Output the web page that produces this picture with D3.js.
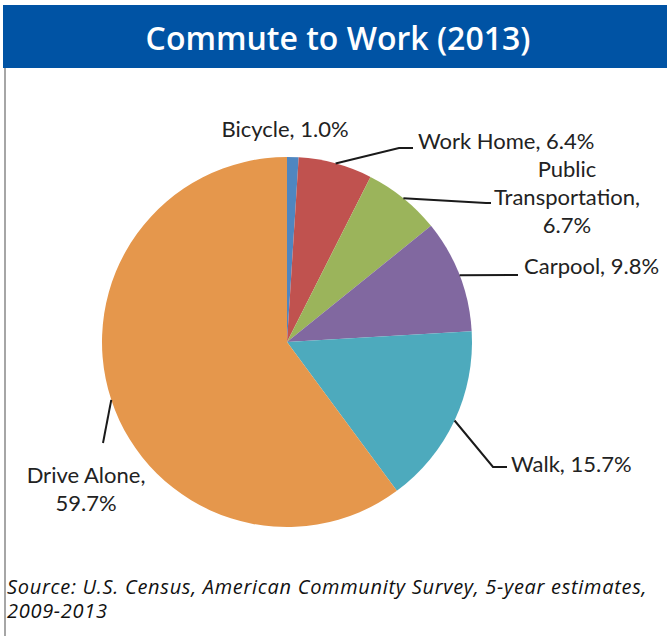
<!DOCTYPE html>
<html>
<head>
<meta charset="utf-8">
<script src="https://cdn.jsdelivr.net/npm/d3@7/dist/d3.min.js"></script>
<style>
  html, body { margin: 0; padding: 0; background: #fff; }
  svg { display: block; }
</style>
</head>
<body>
<svg id="chart" width="667" height="636"></svg>
<script>
// ---- Data ----
const categories = ["Bicycle", "Work Home", "Public Transportation", "Carpool", "Walk", "Drive Alone"];
const values = [1.0, 6.4, 6.7, 9.8, 15.7, 59.7];
const labelLines = [
  ["Bicycle, 1.0%"],
  ["Work Home, 6.4%"],
  ["Public", "Transportation,", "6.7%"],
  ["Carpool, 9.8%"],
  ["Walk, 15.7%"],
  ["Drive Alone,", "59.7%"]
];
const colors = ["#4f86c0", "#c0524f", "#9bb45b", "#8168a0", "#4daabd", "#e5974c"];
const titleText = "Commute to Work (2013)";
const sourceLines = ["Source: U.S. Census, American Community Survey, 5-year estimates,", "2009-2013"];

// ---- Layout (positions only) ----
const W = 667, H = 636;
const cx = 287, cy = 342, R = 185;
const labelLayout = [
  { x: 285, y: 137, anchor: "middle", leader: null },
  { x: 418, y: 149, anchor: "start", leader: [[399, 148], [413, 148]] },
  { x: 567, y: 177, anchor: "middle", leader: [[486, 203], [491, 203]] },
  { x: 524, y: 274, anchor: "start", leader: [[518, 275]] },
  { x: 511, y: 472, anchor: "start", leader: [[493, 467], [507, 467]] },
  { x: 86, y: 483, anchor: "middle", leader: [[103, 443]] }
];
const lineH = 28;

const svg = d3.select("#chart");

// Title bar
svg.append("rect").attr("x", 3).attr("y", 5).attr("width", W - 3).attr("height", 63).attr("fill", "#0053a4");
svg.append("text").attr("x", 338).attr("y", 50)
  .attr("text-anchor", "middle")
  .attr("font-family", "'Open Sans', sans-serif")
  .attr("font-weight", 600)
  .attr("font-size", 32)
  .attr("fill", "#fff")
  .text(titleText);

// Left gray border
svg.append("rect").attr("x", 4).attr("y", 68).attr("width", 2).attr("height", H - 68).attr("fill", "#a6a6a6");

// Pie
const data = categories.map((c, i) => ({ cat: c, value: values[i], i }));
const pie = d3.pie().value(d => d.value).sort(null);
const arcs = pie(data);
const arc = d3.arc().innerRadius(0).outerRadius(R);

const g = svg.append("g").attr("transform", `translate(${cx},${cy})`);
g.selectAll("path.slice").data(arcs).join("path")
  .attr("class", "slice")
  .attr("d", arc)
  .attr("fill", d => colors[d.data.i]);

// Leaders
arcs.forEach(a => {
  const lay = labelLayout[a.data.i];
  if (!lay.leader) return;
  const mid = (a.startAngle + a.endAngle) / 2;
  const sx = cx + R * Math.sin(mid), sy = cy - R * Math.cos(mid);
  const pts = [[sx, sy]].concat(lay.leader);
  svg.append("path")
    .attr("d", d3.line()(pts))
    .attr("fill", "none")
    .attr("stroke", "#1a1a1a")
    .attr("stroke-width", 2);
});

// Labels
arcs.forEach(a => {
  const lay = labelLayout[a.data.i];
  const t = svg.append("text")
    .attr("x", lay.x).attr("y", lay.y)
    .attr("text-anchor", lay.anchor)
    .attr("font-family", "Lato, 'Open Sans', sans-serif")
    .attr("font-size", 22)
    .attr("fill", "#222");
  labelLines[a.data.i].forEach((ln, k) => {
    t.append("tspan").attr("x", lay.x).attr("dy", k === 0 ? 0 : lineH).text(ln);
  });
});

// Source
const st = svg.append("text")
  .attr("x", 7).attr("y", 594)
  .attr("font-family", "'Open Sans', sans-serif")
  .attr("font-style", "italic")
  .attr("font-size", 20)
  .attr("letter-spacing", 0.7)
  .attr("fill", "#111");
sourceLines.forEach((ln, k) => {
  st.append("tspan").attr("x", 7).attr("dy", k === 0 ? 0 : 24).text(ln);
});
</script>
</body>
</html>
